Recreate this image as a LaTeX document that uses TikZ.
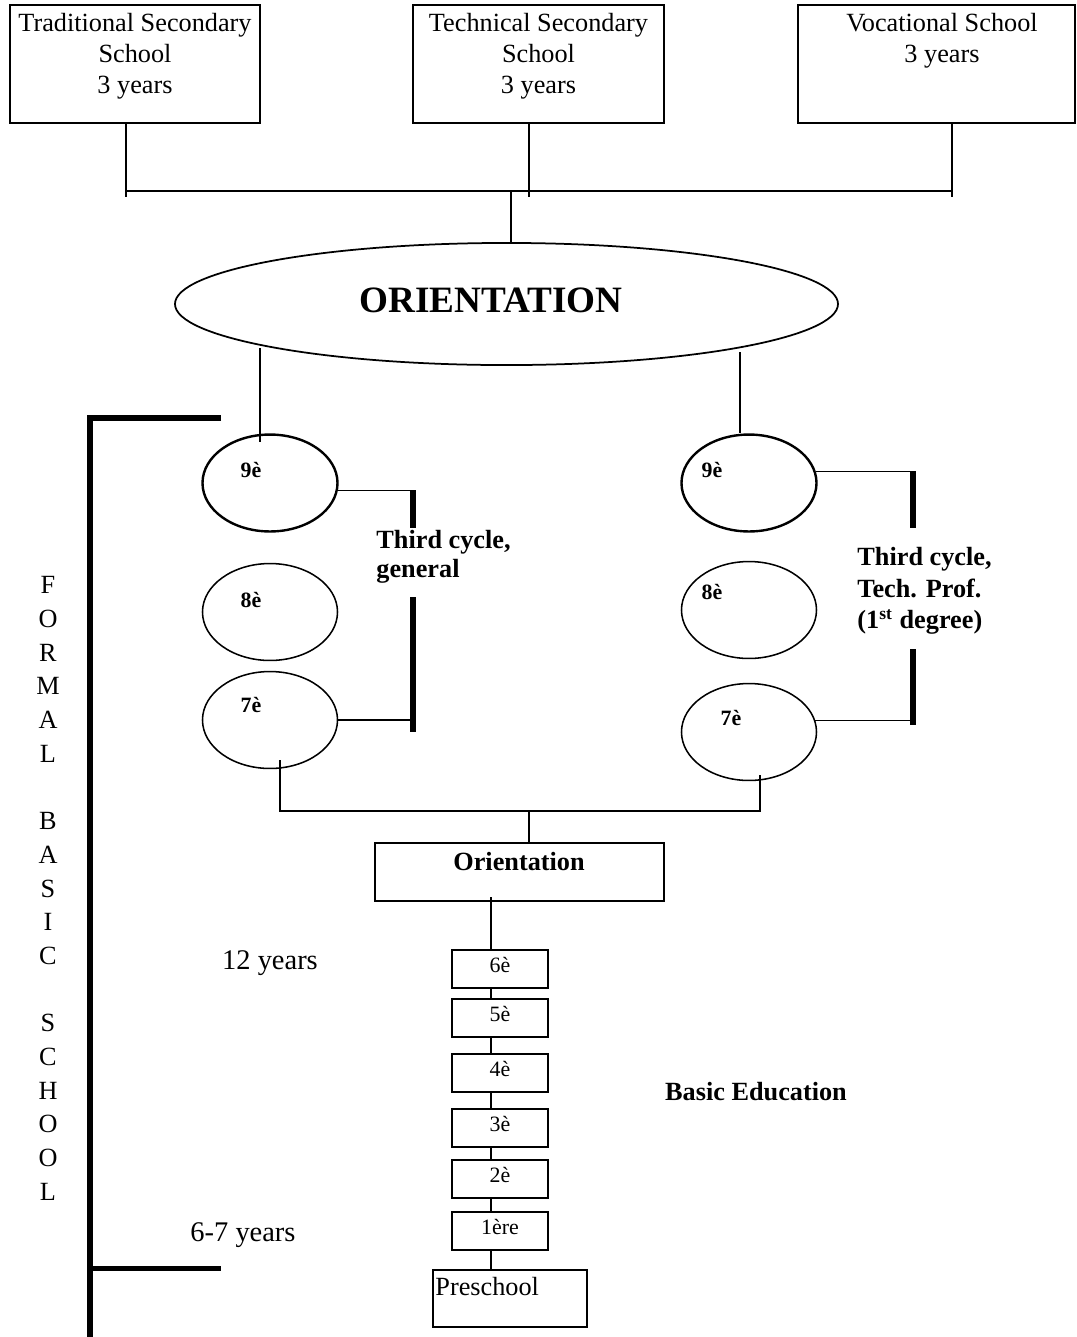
\documentclass[tikz,border=0pt]{standalone}
\usepackage{fontspec}
\setmainfont{Liberation Serif}
\usetikzlibrary{shapes.geometric}
\begin{document}
\begin{tikzpicture}[x=0.457pt,y=-0.457pt,
  conn/.style={line width=0.5pt},
  box/.style={draw, rectangle, line width=0.8pt, inner sep=0pt},
  oval/.style={draw, ellipse, line width=0.7pt, inner sep=0pt, minimum width=61.7pt, minimum height=44.3pt},
  ovalthick/.style={oval, line width=1.1pt},
  thickbar/.style={line width=2.3pt},
  toptext/.style={align=center, inner sep=0pt, font=\fontsize{12}{14.2}\selectfont},
  lab/.style={inner sep=0pt, font=\bfseries\fontsize{10}{12}\selectfont},
  sbox/.style={box, minimum width=43.9pt, minimum height=17.4pt, text height=7pt, text depth=3.6pt, font=\fontsize{10}{12}\selectfont},
  plain/.style={inner sep=0pt, font=\fontsize{13}{15}\selectfont},
  boldtext/.style={inner sep=0pt, font=\bfseries\fontsize{12}{14}\selectfont}
]
\useasboundingbox (0,0) rectangle (1077,1337);

% top boxes
\node[box, minimum width=114.3pt, minimum height=53.9pt] (b1) at (135,64) {};
\node[box, minimum width=114.7pt, minimum height=53.9pt] (b2) at (538.5,64) {};
\node[box, minimum width=126.6pt, minimum height=53.9pt] (b3) at (936.5,64) {};
\node[toptext] (t1) at (135,56) {Traditional Secondary\\School\\3 years};
\node[toptext] (t2) at (538.5,56) {Technical Secondary\\School\\3 years};
\node[toptext] (t3) at (942,40.5) {Vocational School\\3 years};

\coordinate (hl) at (126,191);
\coordinate (hr) at (952,191);
\coordinate (hm) at (511,191);
\coordinate (j1) at (126,197);
\coordinate (j2) at (529,197);
\coordinate (j3) at (952,197);
\draw[conn] (hl) -- (hr);
\draw[conn] (b1.south -| j1) -- (j1);
\draw[conn] (b2.south -| j2) -- (j2);
\draw[conn] (b3.south -| j3) -- (j3);

% big ellipse
\node[draw, ellipse, line width=0.8pt, inner sep=0pt, minimum width=303pt, minimum height=55.8pt] (ell) at (506.5,304) {};
\node[inner sep=0pt, font=\bfseries\fontsize{17}{20}\selectfont] (ellt) at (491,300) {ORIENTATION};
\draw[conn] (hm) -- (ell.north -| hm);

% left column ellipses
\node[ovalthick] (l9) at (270,483) {};
\node[oval] (l8) at (270,612) {};
\node[oval] (l7) at (270,720) {};
\node[lab] (l9t) at (251,470) {9è};
\node[lab] (l8t) at (251,600) {8è};
\node[lab] (l7t) at (251,705) {7è};

% right column ellipses
\node[ovalthick] (r9) at (749,483) {};
\node[oval] (r8) at (749,610) {};
\node[oval] (r7) at (749,732) {};
\node[lab] (r9t) at (712,470) {9è};
\node[lab] (r8t) at (712,592) {8è};
\node[lab] (r7t) at (731,718) {7è};

% from big ellipse to 9e
\coordinate (e1) at (260,348);
\coordinate (e2) at (740,352);
\draw[conn] (e1) -- ([yshift=-4pt]e1 |- l9.north);
\draw[conn] (e2) -- (e2 |- r9.north);

% left third cycle bracket
\coordinate (lb1) at (413,490);
\coordinate (lb2) at (413,528);
\coordinate (lb3) at (413,597);
\coordinate (lb4) at (413,732);
\draw[conn] (l9.-6) -- (l9.-6 -| lb1);
\draw[thickbar] (lb1) -- (lb2);
\draw[thickbar] (lb3) -- (lb4);
\draw[conn] (l7.east) -- (l7.east -| lb1);
\node[boldtext, anchor=west, align=left, font=\bfseries\fontsize{12}{13.3}\selectfont] (tc1) at (376,557) {Third cycle,\\general};

% right third cycle bracket
\coordinate (rb1) at (913,471);
\coordinate (rb2) at (913,528);
\coordinate (rb3) at (913,649);
\coordinate (rb4) at (913,725);
\draw[conn] (r9.10) -- (r9.10 -| rb1);
\draw[thickbar] (rb1) -- (rb2);
\draw[thickbar] (rb3) -- (rb4);
\draw[conn] (r7.10) -- (r7.10 -| rb1);
\node[boldtext, anchor=west, align=left, font=\bfseries\fontsize{12}{14.4}\selectfont] (tc2) at (857,591) {Third cycle,\\Tech. Prof.\\(1\textsuperscript{st} degree)};

% join to Orientation box
\coordinate (k1s) at (280,760);
\coordinate (k1) at (280,811);
\coordinate (k2) at (760,811);
\coordinate (k2s) at (760,775);
\coordinate (k3) at (529,811);
\draw[conn] (k1s) -- (k1) -- (k2) -- (k2s);
\node[box, minimum width=132.1pt, minimum height=26.5pt] (ob) at (519.5,872) {};
\node[boldtext] (obt) at (519,862) {Orientation};
\draw[conn] (k3) -- (k3 |- ob.north);

% grade stack
\node[sbox] (s6) at (500,969) {6è};
\node[sbox] (s5) at (500,1018) {5è};
\node[sbox] (s4) at (500,1073) {4è};
\node[sbox] (s3) at (500,1128) {3è};
\node[sbox] (s2) at (500,1179) {2è};
\node[sbox] (s1) at (500,1231) {1ère};
\node[box, minimum width=70.4pt, minimum height=26pt] (pre) at (510,1298.5) {};
\node[inner sep=0pt, anchor=west, font=\fontsize{12}{14}\selectfont] (pret) at (435,1287) {Preschool};

\coordinate (sx) at (491,897);
\draw[conn] (sx) -- (sx |- s6.north);
\draw[conn] (s6.south -| sx) -- (s5.north -| sx);
\draw[conn] (s5.south -| sx) -- (s4.north -| sx);
\draw[conn] (s4.south -| sx) -- (s3.north -| sx);
\draw[conn] (s3.south -| sx) -- (s2.north -| sx);
\draw[conn] (s2.south -| sx) -- (s1.north -| sx);
\draw[conn] (s1.south -| sx) -- (pre.north -| sx);

% left bracket
\coordinate (lt) at (90,418);
\coordinate (ltr) at (221,418);
\coordinate (lbm) at (90,1268);
\coordinate (lbr) at (221,1268);
\coordinate (lbot) at (90,1345);
\draw[thickbar] (ltr) -- (lt) -- (lbot);
\draw[thickbar] (lbm) -- (lbr);

\node[align=center, inner sep=0pt, font=\fontsize{12}{15.4}\selectfont] (fbs) at (48,888.5)
  {F\\O\\R\\M\\A\\L\\~\\B\\A\\S\\I\\C\\~\\S\\C\\H\\O\\O\\L};

\node[plain] (y12) at (270,963) {12 years};
\node[plain] (y67) at (243,1235) {6-7 years};
\node[boldtext] (be) at (756,1092) {Basic Education};
\end{tikzpicture}
\end{document}
